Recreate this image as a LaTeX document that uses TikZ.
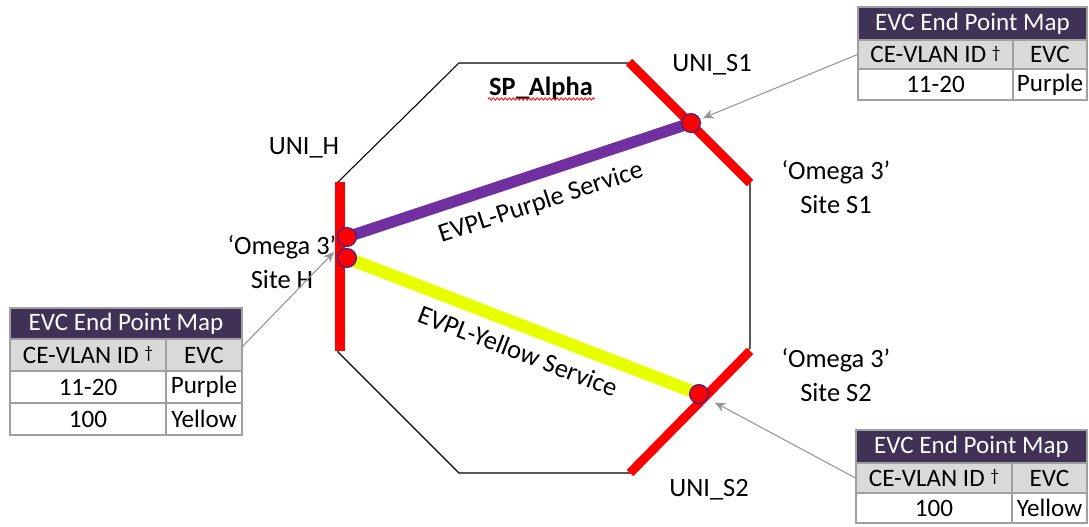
\documentclass[tikz,border=0pt]{standalone}
\usepackage{fontspec}
\setmainfont{Carlito}
\usetikzlibrary{arrows.meta,decorations.pathmorphing,backgrounds}
\definecolor{hdr}{RGB}{64,49,86}
\definecolor{rowgray}{RGB}{217,217,217}
\definecolor{tabline}{RGB}{160,160,160}
\definecolor{evpurple}{RGB}{112,48,160}
\definecolor{evyellow}{RGB}{232,255,0}
\definecolor{unired}{RGB}{255,0,0}
\definecolor{dotline}{RGB}{40,40,150}
\definecolor{arrgray}{RGB}{150,150,150}
\newcommand{\smalldag}{\ {\fontsize{13}{13}\selectfont\raisebox{0.5ex}{†}}}
\tikzset{
  lbl/.style={font=\fontsize{19.8}{25}\selectfont, align=center, inner sep=0},
  cellbase/.style={draw=tabline, line width=0.8pt, inner sep=0, font=\fontsize{18.8}{20}\selectfont},
  hdrcell/.style={cellbase, fill=hdr, text=white},
  graycell/.style={cellbase, fill=rowgray},
  whitecell/.style={cellbase, fill=white},
  unibar/.style={draw=unired, line width=6.8pt},
  dot/.style={circle, fill=unired, draw=dotline, line width=0.8pt, minimum size=14.2pt, inner sep=0},
  pointer/.style={draw=arrgray, line width=0.8pt, -{Stealth[length=8pt, width=7pt]}},
  octa/.style={draw=black, line width=0.8pt}
}
\begin{document}
\begin{tikzpicture}[x=0.75pt,y=-0.75pt]
\useasboundingbox (0,0) rectangle (1089,527);
% octagon
\draw[octa] (459,63) -- (630,63) -- (750,183) -- (750,348) -- (630,473) -- (459,473) -- (338,352) -- (338,182) -- cycle;
% UNI bars
\draw[unibar] (340,182) -- (340,351);
\draw[unibar] (629,62) -- (750,183);
\draw[unibar] (750,351) -- (630,473);
% dots
\node[dot] (cH1) at (347,237) {};
\node[dot] (cH2) at (347,258) {};
\node[dot] (cS1) at (691,123) {};
\node[dot] (cS2) at (699,394) {};
\begin{scope}[on background layer]
\draw[draw=evpurple, line width=8.5pt] (cH1.center) -- (cS1.center);
\draw[draw=evyellow, line width=9.5pt] (cH2.center) -- (cS2.center);
\end{scope}
% texts
\node[lbl, font=\fontsize{19.8}{25}\selectfont\bfseries] (sp) at (541,88) {SP\_Alpha};
\draw[unired, line width=0.6pt, decorate, decoration={snake, amplitude=0.9pt, segment length=3pt}] (488,99) -- (595,99);
\node[lbl, rotate=18] (pl) at (541,203) {EVPL-Purple Service};
\node[lbl, rotate=-21] (yl) at (518,351) {EVPL-Yellow Service};
\node[lbl] (uniS1) at (712,65) {UNI\_S1};
\node[lbl] (uniH) at (304,148) {UNI\_H};
\node[lbl] (uniS2) at (709,490) {UNI\_S2};
\node[lbl] (siteS1) at (836,187) {‘Omega 3’\\Site S1};
\node[lbl] (siteH) at (282,262) {‘Omega 3’\\Site H};
\node[lbl] (siteS2) at (836,375) {‘Omega 3’\\Site S2};
% table S1
\node[hdrcell, minimum width=171.75pt, minimum height=24.75pt] (t1a) at (972.5,23.5) {EVC End Point Map};
\node[graycell, minimum width=116.25pt, minimum height=21.75pt] (t1b) at (935.5,54.5) {CE-VLAN ID\smalldag};
\node[graycell, minimum width=55.5pt, minimum height=21.75pt] (t1c) at (1050,54.5) {EVC};
\node[whitecell, minimum width=116.25pt, minimum height=23.25pt] (t1d) at (935.5,84.5) {11-20};
\node[whitecell, minimum width=55.5pt, minimum height=23.25pt] (t1e) at (1050,84.5) {Purple};
% table H
\node[hdrcell, minimum width=174pt, minimum height=23.25pt] (t2a) at (126,323.5) {EVC End Point Map};
\node[graycell, minimum width=117pt, minimum height=24pt] (t2b) at (88,355) {CE-VLAN ID\smalldag};
\node[graycell, minimum width=57pt, minimum height=24pt] (t2c) at (204,355) {EVC};
\node[whitecell, minimum width=117pt, minimum height=24pt] (t2d) at (88,387) {11-20};
\node[whitecell, minimum width=57pt, minimum height=24pt] (t2e) at (204,387) {Purple};
\node[whitecell, minimum width=117pt, minimum height=24pt] (t2f) at (88,419) {100};
\node[whitecell, minimum width=57pt, minimum height=24pt] (t2g) at (204,419) {Yellow};
% table S2
\node[hdrcell, minimum width=173.25pt, minimum height=24.75pt] (t3a) at (971.5,446.5) {EVC End Point Map};
\node[graycell, minimum width=117pt, minimum height=22.5pt] (t3b) at (934,478) {CE-VLAN ID\smalldag};
\node[graycell, minimum width=56.25pt, minimum height=22.5pt] (t3c) at (1049.5,478) {EVC};
\node[whitecell, minimum width=117pt, minimum height=22.5pt] (t3d) at (934,508) {100};
\node[whitecell, minimum width=56.25pt, minimum height=22.5pt] (t3e) at (1049.5,508) {Yellow};
% pointers
\coordinate (hTip) at (334,252);
\draw[pointer, shorten >=2.3pt] (t1b.west) -- (cS1);
\draw[pointer] ([yshift=-6pt]t2c.north east) -- (hTip);
\draw[pointer, shorten >=6pt] (t3b.west) -- (cS2);
\end{tikzpicture}
\end{document}
